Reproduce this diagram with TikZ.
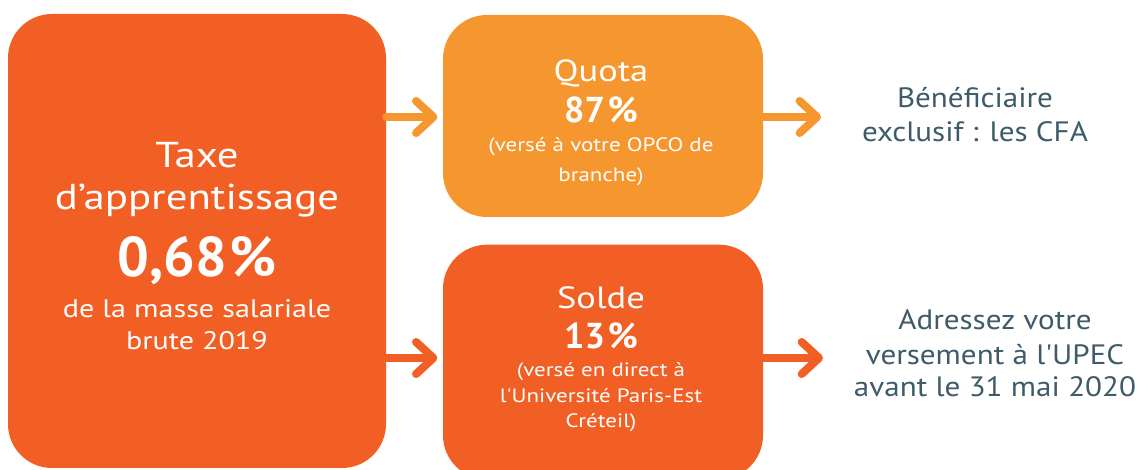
\documentclass[tikz,border=0pt]{standalone}
\usepackage{fontspec}
\setmainfont{PT Sans}
\newfontfamily\boxfont{PT Sans}[FakeStretch=1.19]
\newfontfamily\sidefont{PT Sans}[FakeStretch=1.11]
\usetikzlibrary{arrows.meta}
\definecolor{dark}{HTML}{F15F24}
\definecolor{light}{HTML}{F6962E}
\definecolor{slate}{HTML}{3E5B69}
\begin{document}
\begin{tikzpicture}[x=0.75pt,y=-0.75pt,
 box/.style={rounded corners=33pt, inner sep=0pt, draw=none},
 wt/.style={text=white, anchor=base, inner sep=0pt},
 st/.style={text=slate, anchor=base, inner sep=0pt, font=\sidefont\fontsize{21}{24}\selectfont},
 arr/.style={line width=6pt, line cap=round, -{Straight Barb[length=13pt,width=24pt,round]}}
]
\clip (0,0) rectangle (1140,470);
\fill[white] (0,0) rectangle (1140,470);
\node[box, fill=dark, minimum width=283.5pt, minimum height=340.5pt] (tax) at (197,241) {};
\node[box, fill=light, minimum width=240pt, minimum height=151.5pt] (quota) at (603,116) {};
\node[box, fill=dark, minimum width=240pt, minimum height=176pt] (solde) at (603,362) {};
% text in big box
\node[wt, font=\boxfont\fontsize{27}{30}\selectfont] (t1) at (197,168) {Taxe};
\node[wt, font=\boxfont\fontsize{27}{30}\selectfont] (t2) at (197,210) {d’apprentissage};
\node[wt, font=\fontsize{42}{46}\selectfont\bfseries] (t3) at (197,277) {0,68\kern2pt\%};
\node[wt, font=\boxfont\fontsize{19}{22}\selectfont] (t4) at (197,318) {de la masse salariale};
\node[wt, font=\boxfont\fontsize{19}{22}\selectfont] (t5) at (197,350) {brute 2019};
% quota
\node[wt, font=\boxfont\fontsize{23}{26}\selectfont] (q1) at (601,82) {Quota};
\node[wt, font=\fontsize{27}{30}\selectfont\bfseries] (q2) at (601,123) {87\kern2pt\%};
\node[wt, font=\boxfont\fontsize{14.5}{17}\selectfont] (q3) at (601,152) {(versé à votre OPCO de};
\node[wt, font=\boxfont\fontsize{14.5}{17}\selectfont] (q4) at (601,182) {branche)};
% solde
\node[wt, font=\boxfont\fontsize{23}{26}\selectfont] (s1) at (601,309) {Solde};
\node[wt, font=\fontsize{27}{30}\selectfont\bfseries] (s2) at (601,349) {13\kern2pt\%};
\node[wt, font=\boxfont\fontsize{14.5}{17}\selectfont] (s3) at (601,377) {(versé en direct à};
\node[wt, font=\boxfont\fontsize{14.5}{17}\selectfont] (s4) at (601,403) {l'Université Paris-Est};
\node[wt, font=\boxfont\fontsize{14.5}{17}\selectfont] (s5) at (601,428) {Créteil)};
% right texts
\node[st] (b1) at (975,108) {Bénéficiaire};
\node[st] (b2) at (975,142) {exclusif : les CFA};
\node[st] (a1) at (995,330) {Adressez votre};
\node[st] (a2) at (995,365) {versement à l'UPEC};
\node[st] (a3) at (995,397) {avant le 31 mai 2020};
% arrows
\coordinate (qe) at (821,117);
\coordinate (se) at (823,358);
\draw[arr, light] (tax.east |- 0,117) -- ([xshift=-4pt]quota.west |- 0,117);
\draw[arr, dark] (tax.east |- 0,358) -- ([xshift=-4pt]solde.west |- 0,358);
\draw[arr, light] (quota.east |- 0,117) -- (qe);
\draw[arr, dark] (solde.east |- 0,358) -- (se);
\end{tikzpicture}
\end{document}
